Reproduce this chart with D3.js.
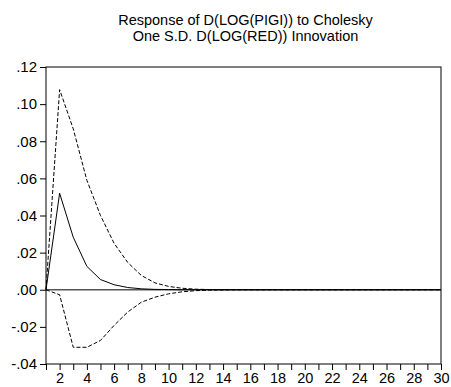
<!DOCTYPE html>
<html>
<head>
<meta charset="utf-8">
<script src="https://cdn.jsdelivr.net/npm/d3@7"></script>
<style>
  body { margin: 0; background: #fff; }
  svg { display: block; font-family: "Liberation Sans", Arial, sans-serif; }
</style>
</head>
<body>
<div id="chart"></div>
<script>
// periods 1..30
const periods = d3.range(1, 31);
const response = [0, 0.052, 0.0283, 0.0126, 0.0055, 0.0027, 0.0012, 0.0005, 0.0002, 0.0001,
  0, 0, 0, 0, 0, 0, 0, 0, 0, 0, 0, 0, 0, 0, 0, 0, 0, 0, 0, 0];
const upperBand = [0, 0.1078, 0.0867, 0.059, 0.040, 0.025, 0.0147, 0.0077, 0.0037, 0.0018,
  0.0008, 0.0003, 0.0001, 0, 0, 0, 0, 0, 0, 0, 0, 0, 0, 0, 0, 0, 0, 0, 0, 0];
const lowerBand = [0, -0.0027, -0.031, -0.031, -0.0273, -0.0192, -0.012, -0.0067, -0.004, -0.0022,
  -0.0011, -0.0005, -0.0002, -0.0001, 0, 0, 0, 0, 0, 0, 0, 0, 0, 0, 0, 0, 0, 0, 0, 0];
const yTicks = [-0.04, -0.02, 0, 0.02, 0.04, 0.06, 0.08, 0.10, 0.12];
const xLabels = [2, 4, 6, 8, 10, 12, 14, 16, 18, 20, 22, 24, 26, 28, 30];
const titleLines = ['Response of D(LOG(PIGI)) to Cholesky', 'One S.D. D(LOG(RED)) Innovation'];

const W = 451, H = 387;
const margin = { top: 67, right: 10, bottom: 23, left: 46 };

const svg = d3.select('#chart').append('svg')
  .attr('width', W)
  .attr('height', H);

const x = d3.scaleLinear().domain([1, 30]).range([margin.left, W - margin.right]);
const y = d3.scaleLinear().domain([-0.04, 0.12]).range([H - margin.bottom, margin.top]);

// ".04" / "-.02" style labels, plain hyphen for the minus
const fmt = d => (d < 0 ? '-' : '') + Math.abs(d).toFixed(2).replace(/^0/, '');

// title
svg.append('g').selectAll('text')
  .data(titleLines)
  .join('text')
  .attr('x', (x.range()[0] + x.range()[1]) / 2 + 2)
  .attr('y', (d, i) => 25 + i * 15.5)
  .attr('text-anchor', 'middle')
  .attr('font-size', '14.5px')
  .attr('fill', '#000')
  .text(d => d);

// zero line
svg.append('line')
  .attr('x1', x(1)).attr('x2', x(30))
  .attr('y1', y(0)).attr('y2', y(0))
  .attr('stroke', '#555')
  .attr('stroke-width', 1.3);

// frame
svg.append('rect')
  .attr('x', x(1)).attr('y', y(0.12))
  .attr('width', x(30) - x(1))
  .attr('height', y(-0.04) - y(0.12))
  .attr('fill', 'none')
  .attr('stroke', '#000')
  .attr('stroke-width', 1);

// axes
const yAxis = svg.append('g')
  .attr('transform', `translate(${x(1)},0)`)
  .call(d3.axisLeft(y).tickValues(yTicks).tickFormat(fmt).tickSize(6).tickPadding(3));
yAxis.select('.domain').remove();
yAxis.selectAll('text').attr('font-size', '15px').attr('font-family', null).attr('fill', '#000');

const xAxis = svg.append('g')
  .attr('transform', `translate(0,${y(-0.04)})`)
  .call(d3.axisBottom(x).tickValues(periods).tickSize(6).tickPadding(3)
    .tickFormat(d => xLabels.includes(d) ? d : ''));
xAxis.select('.domain').remove();
xAxis.selectAll('text').attr('font-size', '14.5px').attr('font-family', null).attr('fill', '#000');

// lines
const line = d3.line().x((d, i) => x(periods[i])).y(d => y(d));

svg.append('path')
  .datum(upperBand)
  .attr('d', line)
  .attr('fill', 'none')
  .attr('stroke', '#000')
  .attr('stroke-dasharray', '4,2');

svg.append('path')
  .datum(lowerBand)
  .attr('d', line)
  .attr('fill', 'none')
  .attr('stroke', '#000')
  .attr('stroke-dasharray', '4,2');

svg.append('path')
  .datum(response)
  .attr('d', line)
  .attr('fill', 'none')
  .attr('stroke', '#000')
  .attr('stroke-width', 1);
</script>
</body>
</html>
